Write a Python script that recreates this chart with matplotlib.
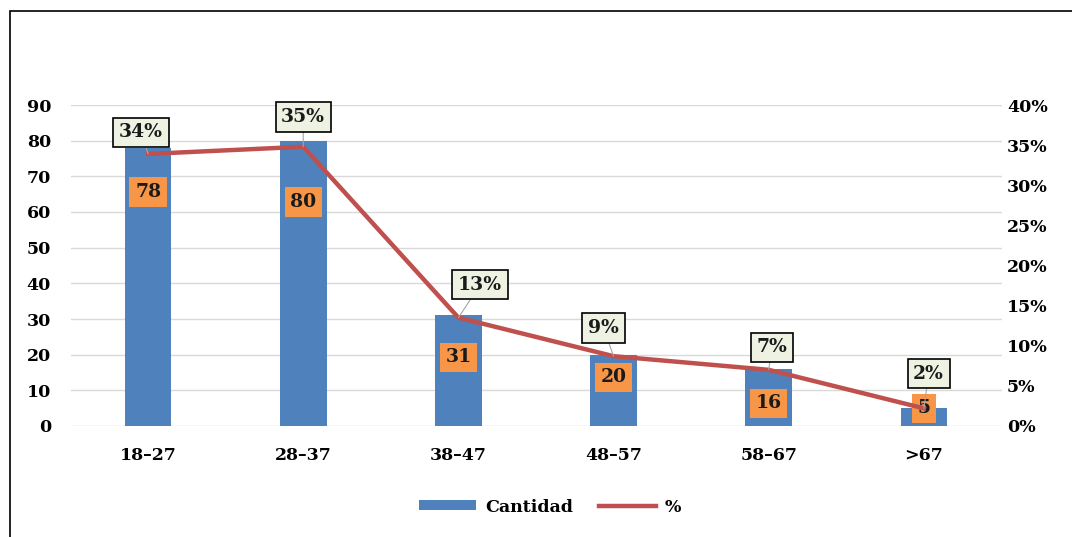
import numpy as np
import matplotlib.pyplot as plt
from matplotlib.patches import Rectangle

# Age groups and counts
grupos = ['18-27', '28-37', '38-47', '48-57', '58-67', '>67']
cantidad = [78, 80, 31, 20, 16, 5]
porcentaje = [0.339, 0.348, 0.135, 0.087, 0.070, 0.022]
pct_labels = ['34%', '35%', '13%', '9%', '7%', '2%']

# where the labels sit
cant_label_y = [65.6, 62.8, 19.3, 13.7, 6.4, 5.0]
pct_label_dx = [-0.045, 0.0, 0.14, -0.065, 0.02, 0.03]
pct_label_y = [0.366, 0.385, 0.176, 0.122, 0.098, 0.065]

plt.rcParams['font.family'] = ['DejaVu Serif']
plt.rcParams['font.weight'] = 'bold'
FS = 12.5
LFS = 13.5

fig = plt.figure(figsize=(10.72, 5.37), dpi=100)
# outer frame (cut at right and bottom like the original)
fig.patches.append(Rectangle((10 / 1072, -0.1), 1.2, 1.1 - 11 / 537,
                             transform=fig.transFigure, fill=False,
                             edgecolor='black', linewidth=1.2))

ax = fig.add_axes([70.5 / 1072, 111 / 537, 931 / 1072, 321 / 537])
x = np.arange(len(grupos))
ax.bar(x, cantidad, width=0.30, color='#4f81bd', label='Cantidad', zorder=2)
ax.set_xlim(-0.5, len(grupos) - 0.5)
ax.set_ylim(0, 90)
ax.set_yticks(range(0, 91, 10))
ax.grid(axis='y', color='#d9d9d9', linewidth=1, zorder=0)
ax.set_axisbelow(True)
for s in ax.spines.values():
    s.set_visible(False)
ax.tick_params(axis='y', length=0, pad=14, labelsize=FS)
ax.tick_params(axis='x', length=0, pad=15, labelsize=FS)
ax.set_xticks(x)
ax.set_xticklabels([g.replace('-', '\u2013') for g in grupos])

for i, v in enumerate(cantidad):
    ax.text(i, cant_label_y[i], str(v), ha='center', va='center', fontsize=LFS,
            color='#1a1a1a', zorder=5,
            bbox=dict(boxstyle='square,pad=0.3', facecolor='#f79646', edgecolor='none'))

ax2 = ax.twinx()
ax2.plot(x, porcentaje, color='#c0504d', linewidth=3.2, label='%', zorder=3)
ax2.set_ylim(0, 0.4)
ax2.set_yticks(np.arange(0, 0.41, 0.05))
ax2.set_yticklabels([f'{int(round(t * 100))}%' for t in np.arange(0, 0.41, 0.05)])
ax2.tick_params(axis='y', length=0, pad=4, labelsize=FS)
for s in ax2.spines.values():
    s.set_visible(False)

for i, p in enumerate(porcentaje):
    ax2.annotate(pct_labels[i], xy=(i, p), xytext=(i + pct_label_dx[i], pct_label_y[i]),
                 ha='center', va='center', fontsize=LFS, color='#1a1a1a', zorder=6,
                 bbox=dict(boxstyle='square,pad=0.3', facecolor='#eef2e3',
                           edgecolor='black', linewidth=1.2),
                 arrowprops=dict(arrowstyle='-', color='#a6a6a6', linewidth=0.8,
                                 shrinkA=0, shrinkB=0))

h1, l1 = ax.get_legend_handles_labels()
h2, l2 = ax2.get_legend_handles_labels()
fig.legend(h1 + h2, l1 + l2, loc='center', bbox_to_anchor=(0.513, 1 - 507 / 537),
           ncol=2, frameon=False, fontsize=FS, handlelength=3.3, handleheight=0.5,
           columnspacing=1.5, handletextpad=0.5)

fig.savefig('out.png', dpi=100)
